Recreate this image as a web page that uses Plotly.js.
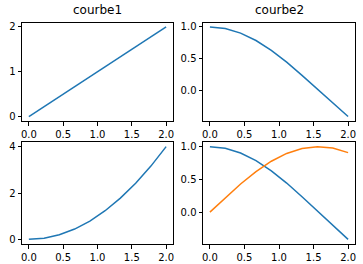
<!DOCTYPE html>
<html>
<head>
<meta charset="utf-8">
<script src="https://cdn.plot.ly/plotly-3.0.1.min.js"></script>
<style>html,body{margin:0;padding:0;background:#fff;}#chart{width:363px;height:264px;}</style>
</head>
<body>
<div id="chart"></div>
<script>
const xs = [0, 0.222, 0.444, 0.667, 0.889, 1.111, 1.333, 1.556, 1.778, 2.0];
const lineY = [0, 0.222, 0.444, 0.667, 0.889, 1.111, 1.333, 1.556, 1.778, 2.0];
const cosY = [1.0, 0.975, 0.903, 0.786, 0.630, 0.444, 0.235, 0.015, -0.206, -0.416];
const sqY = [0, 0.049, 0.198, 0.444, 0.790, 1.235, 1.778, 2.420, 3.160, 4.0];
const sinY = [0, 0.220, 0.430, 0.618, 0.777, 0.896, 0.972, 0.999, 0.978, 0.909];
const titles = ["courbe1", "courbe2"];
const xTicks = [0, 0.5, 1.0, 1.5, 2.0];

const blue = '#1f77b4', orange = '#ff7f0e';
const ln = c => ({color: c, width: 1.5});
const traces = [
  {x: xs, y: lineY, xaxis: 'x', yaxis: 'y', mode: 'lines', line: ln(blue)},
  {x: xs, y: cosY, xaxis: 'x2', yaxis: 'y2', mode: 'lines', line: ln(blue)},
  {x: xs, y: sqY, xaxis: 'x3', yaxis: 'y3', mode: 'lines', line: ln(blue)},
  {x: xs, y: cosY, xaxis: 'x4', yaxis: 'y4', mode: 'lines', line: ln(blue)},
  {x: xs, y: sinY, xaxis: 'x4', yaxis: 'y4', mode: 'lines', line: ln(orange)}
];

const W = 363, H = 264;
const colL = [[22/W, 173/W], [203/W, 355/W]];
const rowT = [[1-121/H, 1-22.5/H], [1-244/H, 1-142/H]];

function pad(arr){ const mn = Math.min(...arr), mx = Math.max(...arr); const d = (mx-mn)*0.05; return [mn-d, mx+d]; }

const common = {showline: true, mirror: true, linecolor: '#000', linewidth: 1, ticks: 'outside', ticklen: 3.5, tickwidth: 1, tickcolor: '#000', showgrid: false, zeroline: false, tickfont: {family: 'DejaVu Sans', size: 10, color: '#000'}};
function xa(dom, anchor){ return Object.assign({}, common, {domain: dom, anchor: anchor, range: pad(xs), tickmode: 'array', tickvals: xTicks, ticktext: xTicks.map(v => v.toFixed(1))}); }
function ya(dom, anchor, rng, vals, dec){ return Object.assign({}, common, {domain: dom, anchor: anchor, range: rng, tickmode: 'array', tickvals: vals, ticktext: vals.map(v => v.toFixed(dec))}); }

const allCos = cosY.concat(sinY);
const layout = {
  width: W, height: H, margin: {l: 0, r: 0, t: 0, b: 0},
  paper_bgcolor: '#fff', plot_bgcolor: '#fff', showlegend: false,
  font: {family: 'DejaVu Sans', color: '#000'},
  xaxis: xa(colL[0], 'y'), yaxis: ya(rowT[0], 'x', pad(lineY), [0, 1, 2], 0),
  xaxis2: xa(colL[1], 'y2'), yaxis2: ya(rowT[0], 'x2', pad(cosY), [0, 0.5, 1.0], 1),
  xaxis3: xa(colL[0], 'y3'), yaxis3: ya(rowT[1], 'x3', pad(sqY), [0, 2, 4], 0),
  xaxis4: xa(colL[1], 'y4'), yaxis4: ya(rowT[1], 'x4', pad(allCos), [0, 0.5, 1.0], 1),
  annotations: titles.map((t, i) => ({text: t, xref: 'paper', yref: 'paper', x: (colL[i][0]+colL[i][1])/2, y: rowT[0][1], xanchor: 'center', yanchor: 'bottom', yshift: 3, showarrow: false, font: {family: 'DejaVu Sans', size: 12, color: '#000'}}))
};
Plotly.newPlot('chart', traces, layout, {staticPlot: true});
</script>
</body>
</html>
